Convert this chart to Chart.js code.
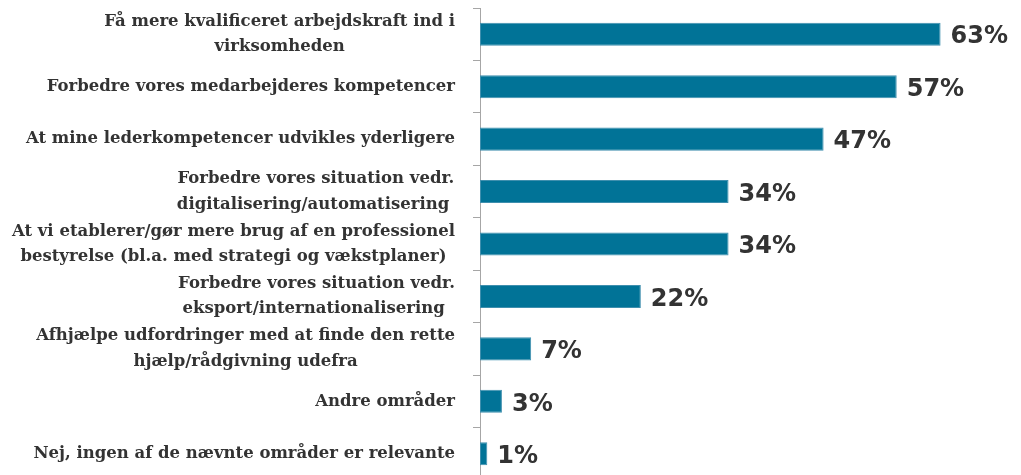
<!DOCTYPE html>
<html lang="da">
<head>
  <meta charset="UTF-8">
  <title>Områder</title>
  <script src="https://cdn.jsdelivr.net/npm/chart.js"></script>
  <style>
    html, body { margin: 0; padding: 0; background: #fff; overflow: hidden; }
  </style>
</head>
<body>
  <canvas id="chart" width="1021" height="490"></canvas>
  <script>
    // Category labels (multi-line labels as arrays)
    const labels = [
      ['Få mere kvalificeret arbejdskraft ind i', 'virksomheden'],
      'Forbedre vores medarbejderes kompetencer',
      'At mine lederkompetencer udvikles yderligere',
      ['Forbedre vores situation vedr.', 'digitalisering/automatisering '],
      ['At vi etablerer/gør mere brug af en professionel', 'bestyrelse (bl.a. med strategi og vækstplaner)'],
      ['Forbedre vores situation vedr.', 'eksport/internationalisering '],
      ['Afhjælpe udfordringer med at finde den rette', 'hjælp/rådgivning udefra'],
      'Andre områder',
      'Nej, ingen af de nævnte områder er relevante'
    ];
    const values = [63, 57, 47, 34, 34, 22, 7, 3, 1];

    const labelFont = 'bold 16.5px "DejaVu Serif"';
    const valueFont = 'bold 24px "DejaVu Sans"';
    const textColor = '#333333';

    // draws category labels (centered lines, right-aligned block) and value labels
    const labelPlugin = {
      id: 'labelPlugin',
      afterDraw(chart) {
        const ctx = chart.ctx;
        const yScale = chart.scales.y;
        ctx.save();
        ctx.fillStyle = textColor;
        ctx.font = labelFont;
        ctx.textBaseline = 'middle';
        ctx.textAlign = 'left';
        const rightEdge = chart.chartArea.left - 25;
        const lineH = 25.5;
        labels.forEach((lab, i) => {
          const lines = Array.isArray(lab) ? lab : [lab];
          const maxW = Math.max(...lines.map(l => ctx.measureText(l).width));
          const cx = rightEdge - maxW / 2;
          const y = yScale.getPixelForTick(i);
          lines.forEach((l, j) => {
            const w = ctx.measureText(l).width;
            // center each line on the widest one
            ctx.fillText(l, cx - w / 2, y + (j - (lines.length - 1) / 2) * lineH);
          });
        });

        ctx.font = valueFont;
        const meta = chart.getDatasetMeta(0);
        meta.data.forEach((bar, i) => {
          ctx.fillText(values[i] + '%', bar.x + 10, bar.y + 3);
        });
        ctx.restore();
      }
    };

    const ctx = document.getElementById('chart').getContext('2d');
    new Chart(ctx, {
      type: 'bar',
      data: {
        labels: labels,
        datasets: [{
          data: values,
          backgroundColor: '#017397',
          borderColor: '#3f8fae',
          borderWidth: 1,
          borderSkipped: false,
          categoryPercentage: 1,
          barPercentage: 0.44
        }]
      },
      options: {
        indexAxis: 'y',
        responsive: false,
        animation: false,
        layout: { padding: { top: 8, bottom: 10, left: 0, right: 0 } },
        plugins: {
          legend: { display: false },
          tooltip: { enabled: false }
        },
        scales: {
          x: {
            display: false,
            min: 0,
            max: 74
          },
          y: {
            afterFit(scale) { scale.width = 480; },
            ticks: { display: false },
            grid: {
              offset: true,
              drawOnChartArea: false,
              drawTicks: true,
              tickLength: 7,
              color: '#a6a6a6',
              lineWidth: 1
            },
            border: { display: true, color: '#a6a6a6', width: 1 }
          }
        }
      },
      plugins: [labelPlugin]
    });
  </script>
</body>
</html>
